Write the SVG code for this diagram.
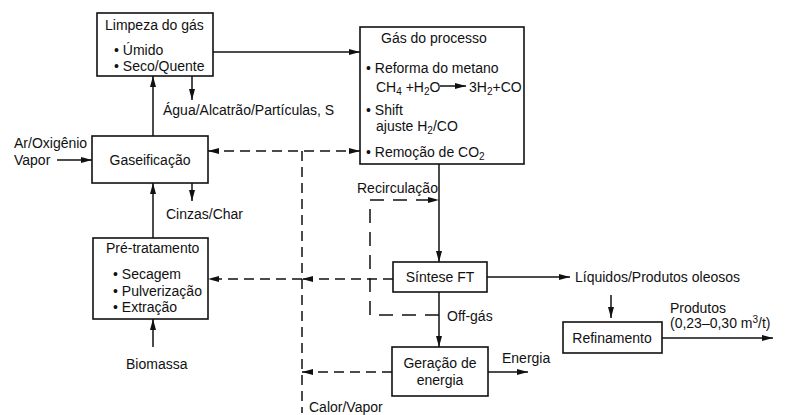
<svg xmlns="http://www.w3.org/2000/svg" width="786" height="415" viewBox="0 0 786 415">
<style>
text{font-family:"Liberation Sans",Arial,sans-serif;font-size:14px;fill:#111}
.box{fill:#fff;stroke:#111;stroke-width:1.6}
.ln{fill:none;stroke:#111;stroke-width:1.5}
.ar{marker-end:url(#ah)}
.ds{stroke-dasharray:10 6}
.dl{stroke-dasharray:14 9}
.c{text-anchor:middle}
.sub{font-size:10px}
</style>
<defs>
<marker id="ah" markerUnits="userSpaceOnUse" markerWidth="11" markerHeight="6" refX="11" refY="3" orient="auto-start-reverse">
<path d="M0,0 L11,3 L0,6 z" fill="#111"/>
</marker>
</defs>
<rect width="786" height="415" fill="#fff"/>
<g id="connectors">
<line class="ln ar" x1="213" y1="52" x2="360" y2="52"/>
<line class="ln ar" x1="192" y1="76" x2="192" y2="100"/>
<line class="ln ar" x1="153" y1="136" x2="153" y2="76"/>
<line class="ln ar" x1="57" y1="160" x2="92" y2="160"/>
<line class="ln ds" x1="208" y1="151" x2="360" y2="151" marker-start="url(#ah)" marker-end="url(#ah)"/>
<line class="ln ds" x1="302" y1="151" x2="302" y2="413"/>
<line class="ln ar" x1="192" y1="183" x2="192" y2="201"/>
<line class="ln ar" x1="153" y1="238" x2="153" y2="183"/>
<line class="ln ar" x1="153" y1="347" x2="153" y2="319"/>
<line class="ln ds ar" x1="393" y1="279" x2="302" y2="279"/>
<line class="ln ds ar" x1="302" y1="279" x2="208" y2="279"/>
<line class="ln ds ar" x1="392" y1="372" x2="302" y2="372"/>
<line class="ln ar" x1="439" y1="164" x2="439" y2="262"/>
<path class="ln dl ar" d="M439,315 H370 V200 H439"/>
<line class="ln ar" x1="439" y1="292" x2="439" y2="347"/>
<line class="ln ar" x1="487" y1="277" x2="570" y2="277"/>
<line class="ln ar" x1="611" y1="295" x2="611" y2="318"/>
<line class="ln ar" x1="662" y1="338" x2="773" y2="338"/>
<line class="ln ar" x1="488" y1="372" x2="528" y2="372"/>
</g>
<g id="limpeza">
<rect class="box" x="97" y="13" width="116" height="63"/>
<text x="105" y="30">Limpeza do gás</text>
<text x="114" y="55">• Úmido</text>
<text x="114" y="71">• Seco/Quente</text>
</g>
<g id="gas-processo">
<rect class="box" x="360" y="27" width="164" height="137"/>
<text x="381" y="43">Gás do processo</text>
<text x="366" y="73">• Reforma do metano</text>
<text x="376" y="92">CH<tspan class="sub" dy="3">4</tspan><tspan dy="-3"> +H</tspan><tspan class="sub" dy="3">2</tspan><tspan dy="-3">O</tspan></text>
<line class="ln ar" x1="440" y1="86" x2="466" y2="86"/>
<text x="469" y="92">3H<tspan class="sub" dy="3">2</tspan><tspan dy="-3">+CO</tspan></text>
<text x="366" y="115">• Shift</text>
<text x="376" y="131">ajuste H<tspan class="sub" dy="3">2</tspan><tspan dy="-3">/CO</tspan></text>
<text x="366" y="157">• Remoção de CO<tspan class="sub" dy="3">2</tspan></text>
</g>
<g id="gaseificacao">
<rect class="box" x="92" y="136" width="116" height="47"/>
<text class="c" x="150" y="165">Gaseificação</text>
</g>
<g id="pre-tratamento">
<rect class="box" x="93" y="238" width="115" height="81"/>
<text x="106" y="253">Pré-tratamento</text>
<text x="113" y="279">• Secagem</text>
<text x="113" y="296">• Pulverização</text>
<text x="113" y="312">• Extração</text>
</g>
<g id="sintese">
<rect class="box" x="393" y="262" width="94" height="30"/>
<text class="c" x="440" y="282">Síntese FT</text>
</g>
<g id="geracao">
<rect class="box" x="392" y="347" width="96" height="49"/>
<text class="c" x="440" y="368">Geração de</text>
<text class="c" x="440" y="385">energia</text>
</g>
<g id="refinamento">
<rect class="box" x="563" y="322" width="99" height="31"/>
<text class="c" x="612" y="343">Refinamento</text>
</g>
<g id="labels">
<text x="14" y="148">Ar/Oxigênio</text>
<text x="14" y="165">Vapor</text>
<text x="163" y="115">Água/Alcatrão/Partículas, S</text>
<text x="166" y="219">Cinzas/Char</text>
<text x="126" y="369">Biomassa</text>
<text x="309" y="412">Calor/Vapor</text>
<text x="357" y="193">Recirculação</text>
<text x="447" y="321">Off-gás</text>
<text x="575" y="282">Líquidos/Produtos oleosos</text>
<text x="670" y="313">Produtos</text>
<text x="670" y="328">(0,23–0,30 m<tspan class="sub" dy="-5">3</tspan><tspan dy="5">/t)</tspan></text>
<text x="502" y="363">Energia</text>
</g>
</svg>
